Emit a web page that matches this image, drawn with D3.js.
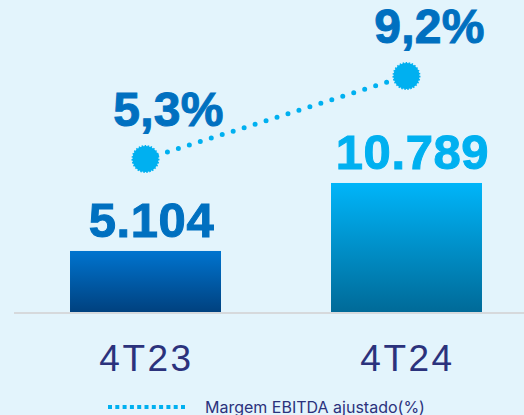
<!DOCTYPE html>
<html>
<head>
<meta charset="utf-8">
<script src="https://cdn.jsdelivr.net/npm/d3@7"></script>
<style>
  html, body { margin: 0; padding: 0; background: #e3f4fc; }
  svg { display: block; }
</style>
</head>
<body>
<div id="chart"></div>
<script>
// chart data
const categories = ['4T23', '4T24'];
const ebitda = [5104, 10789];
const ebitdaLabels = ['5.104', '10.789'];
const margin = [5.3, 9.2];
const marginLabels = ['5,3%', '9,2%'];
const legendLabel = 'Margem EBITDA ajustado(%)';

const width = 524, height = 415;
const baseline = 312;

const svg = d3.select('#chart').append('svg')
    .attr('width', width)
    .attr('height', height);

const defs = svg.append('defs');
const gradients = [
    { id: 'g0', top: '#0074cf', bottom: '#00417f' },
    { id: 'g1', top: '#00b5f9', bottom: '#006a98' }
];
gradients.forEach(g => {
    const lg = defs.append('linearGradient')
        .attr('id', g.id)
        .attr('x1', 0).attr('y1', 0).attr('x2', 0).attr('y2', 1);
    lg.append('stop').attr('offset', '0%').attr('stop-color', g.top);
    lg.append('stop').attr('offset', '100%').attr('stop-color', g.bottom);
});

// scales
const x = d3.scaleBand()
    .domain(categories)
    .range([14, 538])
    .paddingInner(0.4215)
    .paddingOuter(0.2146);
const cx = d => x(d) + x.bandwidth() / 2;
const yBar = d3.scaleLinear()
    .domain([0, 12000])
    .range([baseline, baseline - 143.5]);
const yLine = d3.scaleLinear()
    .domain([0, 10])
    .range([271.8, 59]);

// bars
svg.selectAll('rect.bar')
    .data(ebitda)
    .join('rect')
    .attr('class', 'bar')
    .attr('x', (d, i) => x(categories[i]))
    .attr('width', x.bandwidth())
    .attr('y', d => yBar(d))
    .attr('height', d => baseline - yBar(d))
    .attr('fill', (d, i) => `url(#${gradients[i].id})`);

// baseline
svg.append('line')
    .attr('x1', 14).attr('x2', width)
    .attr('y1', baseline + 1).attr('y2', baseline + 1)
    .attr('stroke', '#d6d9dc')
    .attr('stroke-width', 2);

// bar value labels (thin stroke to thicken the glyphs)
const valueColors = ['#0070c0', '#00b0f0'];
svg.selectAll('text.value')
    .data(ebitda)
    .join('text')
    .attr('class', 'value')
    .attr('x', (d, i) => cx(categories[i]) + 6)
    .attr('y', d => yBar(d) - 14)
    .attr('text-anchor', 'middle')
    .attr('font-family', 'Liberation Sans, Arial, sans-serif')
    .attr('font-weight', 'bold')
    .attr('font-size', 49)
    .attr('letter-spacing', 0.6)
    .attr('fill', (d, i) => valueColors[i])
    .attr('stroke', (d, i) => valueColors[i])
    .attr('stroke-width', 1)
    .text((d, i) => ebitdaLabels[i]);

// category labels
svg.selectAll('text.cat')
    .data(categories)
    .join('text')
    .attr('class', 'cat')
    .attr('x', d => cx(d) + 1)
    .attr('y', 371)
    .attr('text-anchor', 'middle')
    .attr('font-family', 'Liberation Sans, Arial, sans-serif')
    .attr('font-size', 37)
    .attr('letter-spacing', 2.5)
    .attr('fill', '#2b327c')
    .text(d => d);

// margin line
const linePts = margin.map((m, i) => [cx(categories[i]), yLine(m)]);
svg.append('path')
    .attr('d', d3.line()(linePts))
    .attr('fill', 'none')
    .attr('stroke', '#00b0f0')
    .attr('stroke-width', 5)
    .attr('stroke-linecap', 'round')
    .attr('stroke-dasharray', '0 11.5');

svg.selectAll('circle.marker')
    .data(linePts)
    .join('circle')
    .attr('class', 'marker')
    .attr('cx', d => d[0])
    .attr('cy', d => d[1])
    .attr('r', 13)
    .attr('fill', '#00b0f0')
    .attr('stroke', '#00b0f0')
    .attr('stroke-width', 2)
    .attr('stroke-dasharray', '1.5 1.5');

svg.selectAll('text.pct')
    .data(margin)
    .join('text')
    .attr('class', 'pct')
    .attr('x', (d, i) => linePts[i][0] + 23)
    .attr('y', d => yLine(d) - 33)
    .attr('text-anchor', 'middle')
    .attr('font-family', 'Liberation Sans, Arial, sans-serif')
    .attr('font-weight', 'bold')
    .attr('font-size', 48)
    .attr('letter-spacing', 0.3)
    .attr('fill', '#0070c0')
    .attr('stroke', '#0070c0')
    .attr('stroke-width', 1)
    .text((d, i) => marginLabels[i]);

// legend
const legend = svg.append('g').attr('transform', 'translate(108,407)');
legend.append('line')
    .attr('x1', 0).attr('x2', 80)
    .attr('y1', 0).attr('y2', 0)
    .attr('stroke', '#00b0f0')
    .attr('stroke-width', 4)
    .attr('stroke-dasharray', '4 3.3');
legend.append('text')
    .attr('x', 97)
    .attr('y', 5.5)
    .attr('font-family', 'Inter, Liberation Sans, sans-serif')
    .attr('font-size', 16)
    .attr('fill', '#2b327c')
    .text(legendLabel);
</script>
</body>
</html>
